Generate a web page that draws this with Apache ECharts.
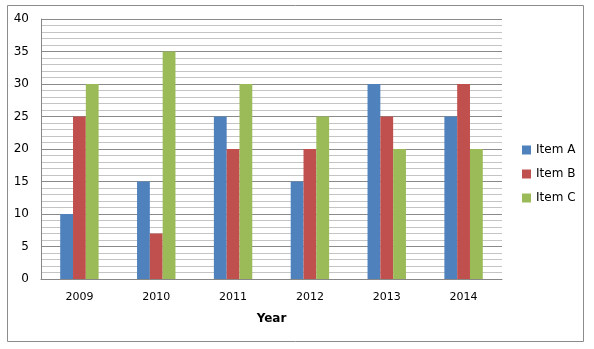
<!DOCTYPE html>
<html><head><meta charset="utf-8">
<script src="https://cdn.jsdelivr.net/npm/echarts@6/dist/echarts.min.js"></script>
<style>html,body{margin:0;padding:0;background:#fff}#c{width:594px;height:349px}</style>
</head><body><div id="c"></div>
<script>
const categories = ['2009','2010','2011','2012','2013','2014'];
const itemA = [10,15,25,15,30,25];
const itemB = [25,7,20,20,25,30];
const itemC = [30,35,30,25,20,20];
const seriesNames = ['Item A','Item B','Item C'];
const colors = ['#4F81BD','#C0504D','#9BBB59'];
const font = 'DejaVu Sans';
const chart = echarts.init(document.getElementById('c'));
chart.setOption({
  animation:false,
  backgroundColor:'#fff',
  graphic:[{type:'rect',shape:{x:7.5,y:5.5,width:576,height:336},style:{fill:'none',stroke:'#8c8c8c',lineWidth:1},silent:true}],
  grid:{left:41,right:92,top:19,bottom:70},
  legend:{orient:'vertical',left:517,top:139,itemWidth:9,itemHeight:9,itemGap:12,icon:'rect',
    textStyle:{fontFamily:font,fontSize:12,color:'#000'},data:seriesNames},
  xAxis:{type:'category',data:categories,name:'Year',nameLocation:'middle',nameGap:34,
    nameTextStyle:{fontFamily:font,fontSize:12,fontWeight:'bold',color:'#000'},
    axisLine:{lineStyle:{color:'#888'}},axisTick:{show:false},
    axisLabel:{fontFamily:font,fontSize:11,color:'#000',margin:13}},
  yAxis:{type:'value',min:0,max:40,interval:5,
    axisLine:{show:true,lineStyle:{color:'#888'}},axisTick:{show:false},
    axisLabel:{fontFamily:font,fontSize:12,color:'#000',margin:12},
    splitLine:{lineStyle:{color:'#8a8a8a'}},
    minorTick:{show:false,splitNumber:5},
    minorSplitLine:{show:true,lineStyle:{color:'#c4c4c4'}}},
  series:[
    {name:seriesNames[0],type:'bar',data:itemA,itemStyle:{color:colors[0]},barGap:'0%',barCategoryGap:'50%',z:5},
    {name:seriesNames[1],type:'bar',data:itemB,itemStyle:{color:colors[1]},barGap:'0%',barCategoryGap:'50%',z:5},
    {name:seriesNames[2],type:'bar',data:itemC,itemStyle:{color:colors[2]},barGap:'0%',barCategoryGap:'50%',z:5}
  ]
});
</script></body></html>
